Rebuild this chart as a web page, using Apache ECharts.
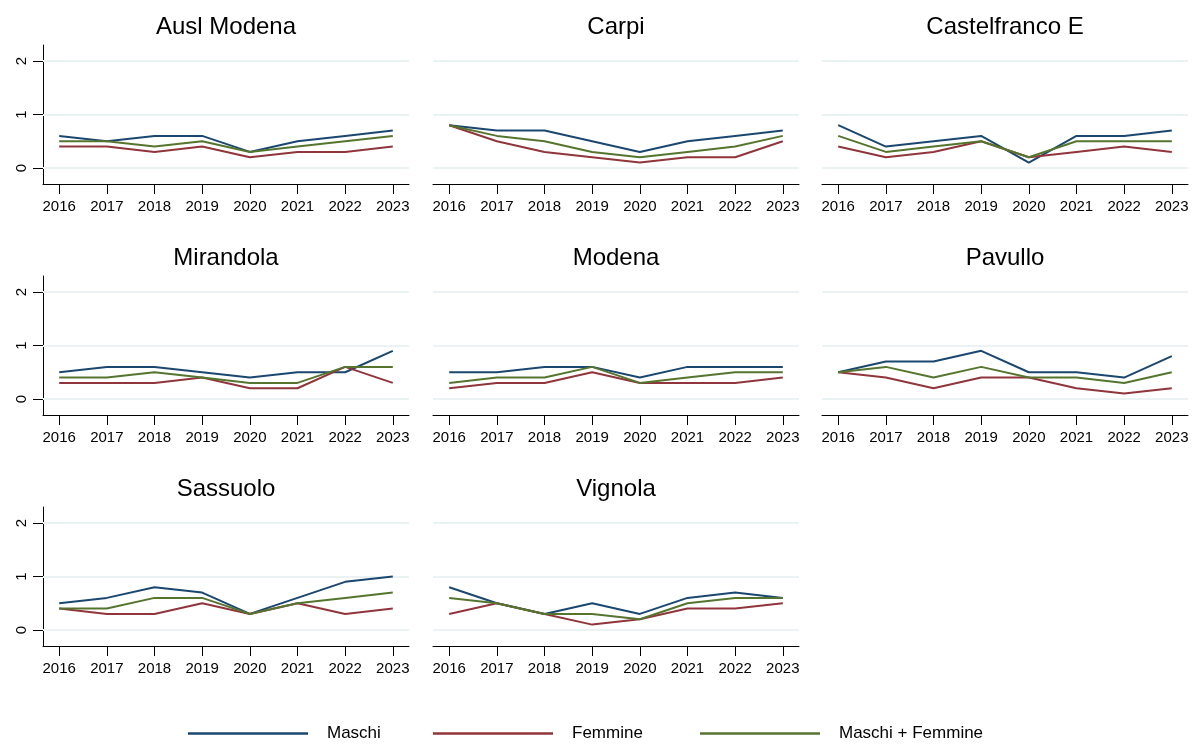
<!DOCTYPE html>
<html>
<head>
<meta charset="utf-8">
<title>Andamento per distretto</title>
<script src="https://cdn.jsdelivr.net/npm/echarts@6/dist/echarts.min.js"></script>
<style>
  html, body { margin: 0; padding: 0; background: #ffffff; }
  #chart { width: 1199px; height: 744px; }
</style>
</head>
<body>
<div id="chart"></div>
<script>
// Years on the x axis and tick values on the y axis
const years = [2016, 2017, 2018, 2019, 2020, 2021, 2022, 2023];
const yTicks = [0, 1, 2];

// One panel per district
const districts = ['Ausl Modena', 'Carpi', 'Castelfranco E', 'Mirandola', 'Modena', 'Pavullo', 'Sassuolo', 'Vignola'];

// Rates by district (same order as districts), one value per year
const maschi = [
  [0.6, 0.5, 0.6, 0.6, 0.3, 0.5, 0.6, 0.7],
  [0.8, 0.7, 0.7, 0.5, 0.3, 0.5, 0.6, 0.7],
  [0.8, 0.4, 0.5, 0.6, 0.1, 0.6, 0.6, 0.7],
  [0.5, 0.6, 0.6, 0.5, 0.4, 0.5, 0.5, 0.9],
  [0.5, 0.5, 0.6, 0.6, 0.4, 0.6, 0.6, 0.6],
  [0.5, 0.7, 0.7, 0.9, 0.5, 0.5, 0.4, 0.8],
  [0.5, 0.6, 0.8, 0.7, 0.3, 0.6, 0.9, 1.0],
  [0.8, 0.5, 0.3, 0.5, 0.3, 0.6, 0.7, 0.6]
];
const femmine = [
  [0.4, 0.4, 0.3, 0.4, 0.2, 0.3, 0.3, 0.4],
  [0.8, 0.5, 0.3, 0.2, 0.1, 0.2, 0.2, 0.5],
  [0.4, 0.2, 0.3, 0.5, 0.2, 0.3, 0.4, 0.3],
  [0.3, 0.3, 0.3, 0.4, 0.2, 0.2, 0.6, 0.3],
  [0.2, 0.3, 0.3, 0.5, 0.3, 0.3, 0.3, 0.4],
  [0.5, 0.4, 0.2, 0.4, 0.4, 0.2, 0.1, 0.2],
  [0.4, 0.3, 0.3, 0.5, 0.3, 0.5, 0.3, 0.4],
  [0.3, 0.5, 0.3, 0.1, 0.2, 0.4, 0.4, 0.5]
];
const totale = [
  [0.5, 0.5, 0.4, 0.5, 0.3, 0.4, 0.5, 0.6],
  [0.8, 0.6, 0.5, 0.3, 0.2, 0.3, 0.4, 0.6],
  [0.6, 0.3, 0.4, 0.5, 0.2, 0.5, 0.5, 0.5],
  [0.4, 0.4, 0.5, 0.4, 0.3, 0.3, 0.6, 0.6],
  [0.3, 0.4, 0.4, 0.6, 0.3, 0.4, 0.5, 0.5],
  [0.5, 0.6, 0.4, 0.6, 0.4, 0.4, 0.3, 0.5],
  [0.4, 0.4, 0.6, 0.6, 0.3, 0.5, 0.6, 0.7],
  [0.6, 0.5, 0.3, 0.3, 0.2, 0.5, 0.6, 0.6]
];

const seriesNames = ['Maschi', 'Femmine', 'Maschi + Femmine'];
const seriesColors = ['#1a476f', '#90353b', '#55752f'];

const FONT = "'Liberation Sans', Arial, Helvetica, sans-serif";

// Panel geometry: 3 columns x 3 rows
const colLeft = [43, 433, 822];
const rowTop = [45, 276, 507];
const panelW = 366;
const panelH = 139;
const yMin = -0.3, yMax = 2.3;
const xPad = 0.34;

const grids = [], xAxes = [], yAxes = [], series = [], graphics = [];

districts.forEach((name, i) => {
  const col = i % 3, row = Math.floor(i / 3);
  const left = colLeft[col], top = rowTop[row];
  const firstCol = col === 0;

  grids.push({ left: left, top: top, width: panelW, height: panelH, containLabel: false });

  xAxes.push({
    gridIndex: i, type: 'value',
    min: years[0] - xPad, max: years[years.length - 1] + xPad,
    axisLine: { show: true, onZero: false, lineStyle: { color: '#000', width: 1 } },
    axisTick: { show: true, length: 10, customValues: years, lineStyle: { color: '#000', width: 1 } },
    axisLabel: { show: true, customValues: years, margin: 15, color: '#000',
      fontFamily: FONT, fontSize: 15, formatter: v => String(v) },
    splitLine: { show: false }
  });

  yAxes.push({
    gridIndex: i, type: 'value', min: yMin, max: yMax,
    axisLine: { show: firstCol, onZero: false, lineStyle: { color: '#000', width: 1 } },
    axisTick: { show: firstCol, length: 10, customValues: yTicks, lineStyle: { color: '#000', width: 1 } },
    axisLabel: { show: firstCol, customValues: yTicks, rotate: 90, margin: 14, color: '#000',
      fontFamily: FONT, fontSize: 15, formatter: v => String(v) },
    splitLine: { show: false }
  });

  // light horizontal grid lines at the y ticks, kept beneath the data lines
  series.push({
    type: 'line', xAxisIndex: i, yAxisIndex: i, z: 1, silent: true,
    data: years.map(y => [y, null]), symbol: 'none',
    markLine: {
      silent: true, symbol: 'none', animation: false, z: 1,
      label: { show: false },
      lineStyle: { color: '#eaf2f3', width: 2, type: 'solid' },
      data: yTicks.map(t => ({ yAxis: t }))
    }
  });

  [maschi[i], femmine[i], totale[i]].forEach((vals, k) => {
    series.push({
      name: seriesNames[k], type: 'line', xAxisIndex: i, yAxisIndex: i, z: 6 + k,
      data: years.map((y, j) => [y, vals[j]]),
      symbol: 'none', animation: false,
      lineStyle: { color: seriesColors[k], width: 2 },
      itemStyle: { color: seriesColors[k] }
    });
  });

  graphics.push({
    type: 'text', x: left + panelW / 2, y: top - 30,
    style: { text: name, fill: '#000', font: '24px ' + FONT, textAlign: 'center', textVerticalAlign: 'top' }
  });
});

const legendLeft = [183, 428, 695];
const legends = seriesNames.map((n, k) => ({
  data: [n], left: legendLeft[k], top: 720,
  icon: 'rect', itemWidth: 120, itemHeight: 2.5,
  selectedMode: false,
  textStyle: { color: '#000', fontFamily: FONT, fontSize: 17, padding: [0, 0, 0, 14] }
}));

const chart = echarts.init(document.getElementById('chart'), null, { renderer: 'canvas' });
chart.setOption({
  animation: false,
  backgroundColor: '#ffffff',
  grid: grids,
  xAxis: xAxes,
  yAxis: yAxes,
  legend: legends,
  series: series,
  graphic: graphics
});
</script>
</body>
</html>
